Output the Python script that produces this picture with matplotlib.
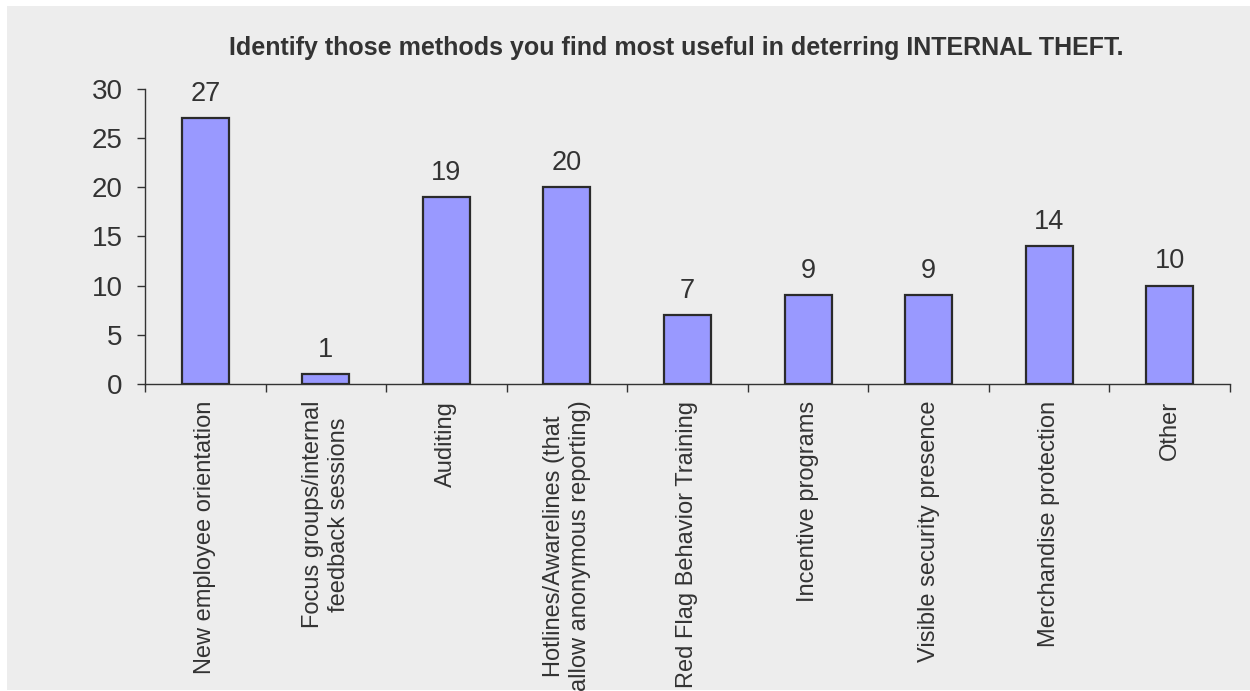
import matplotlib.pyplot as plt
from matplotlib.patches import Rectangle

categories = [
    "New employee orientation",
    "Focus groups/internal\nfeedback sessions",
    "Auditing",
    "Hotlines/Awarelines (that\nallow anonymous reporting)",
    "Red Flag Behavior Training",
    "Incentive programs",
    "Visible security presence",
    "Merchandise protection",
    "Other",
]
counts = [27, 1, 19, 20, 7, 9, 9, 14, 10]
y_ticks = [0, 5, 10, 15, 20, 25, 30]
title = "Identify those methods you find most useful in deterring INTERNAL THEFT."

plt.rcParams['font.family'] = ['Liberation Sans', 'DejaVu Sans']
text_color = '#333333'

fig = plt.figure(figsize=(12.5, 6.91), dpi=100, facecolor='white')
# grey panel behind the chart
panel = Rectangle((7 / 1250, 1 / 691), 1 - 7 / 1250, 684 / 691,
                  transform=fig.transFigure, facecolor='#ededed',
                  edgecolor='none', zorder=-10)
fig.add_artist(panel)

ax = fig.add_axes([145 / 1250, 1 - 384 / 691, 1085 / 1250, 295.3 / 691])
ax.set_facecolor('none')
ax.set_zorder(1)

x = list(range(len(categories)))
bars = ax.bar(x, counts, width=0.39, color='#9999ff', edgecolor='#2b2b2b',
              linewidth=1.6, zorder=3)
for bar, value in zip(bars, counts):
    ax.annotate(str(value), (bar.get_x() + bar.get_width() / 2, value),
                xytext=(0, 8), textcoords='offset points', ha='center',
                va='bottom', fontsize=19.5, color=text_color)

ax.set_xlim(-0.5, len(categories) - 0.5)
ax.set_ylim(0, 30)
ax.set_yticks(y_ticks)
ax.tick_params(axis='y', labelsize=20, colors=text_color, length=6,
               width=1, pad=10)

# category boundaries get the tick marks, labels sit under each bar
ax.set_xticks([i - 0.5 for i in range(len(categories) + 1)])
ax.set_xticklabels([])
ax.tick_params(axis='x', length=6, width=1, colors=text_color)
ax.set_xticks(x, minor=True)
ax.set_xticklabels(categories, minor=True, rotation=90, fontsize=17,
                   color=text_color, ha='center', va='top',
                   multialignment='center')
ax.tick_params(axis='x', which='minor', length=0, pad=12)

for side in ['top', 'right']:
    ax.spines[side].set_visible(False)
for side in ['left', 'bottom']:
    ax.spines[side].set_color(text_color)
    ax.spines[side].set_linewidth(1)

fig.text(676 / 1250, 1 - 55 / 691, title, ha='center', va='baseline',
         fontsize=18, fontweight='bold', color=text_color)

fig.savefig('out.png', dpi=100, facecolor=fig.get_facecolor())
